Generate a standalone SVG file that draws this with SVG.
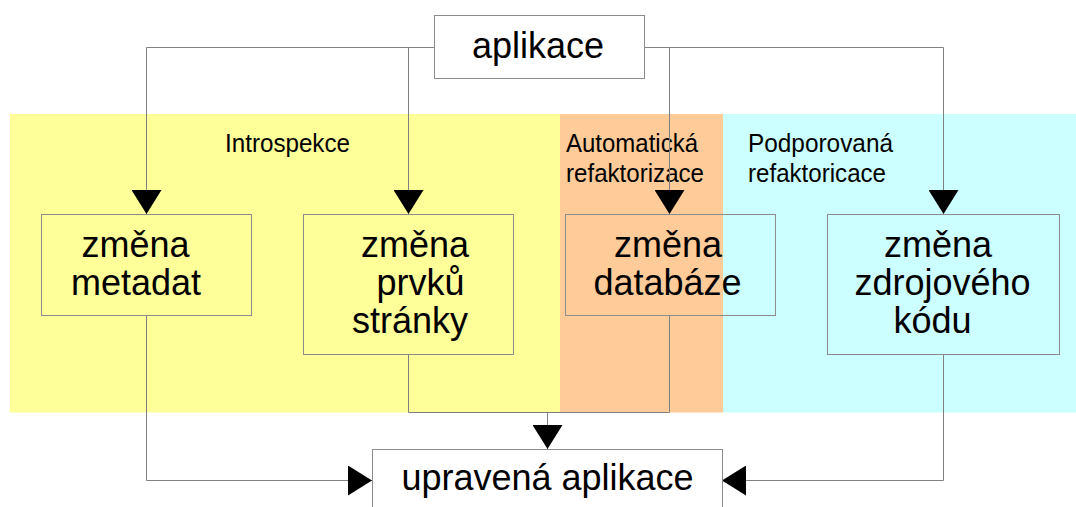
<svg xmlns="http://www.w3.org/2000/svg" width="1076" height="507" viewBox="0 0 1076 507">
<style>
.band{stroke:none}
.box{fill:none;stroke:#8c8c8c;stroke-width:1}
.wbox{fill:#ffffff;stroke:#8c8c8c;stroke-width:1}
.conn{fill:none;stroke:#808080;stroke-width:1}
.node{font-family:"Liberation Sans",Arial,sans-serif;font-size:36px;fill:#000;text-anchor:middle}
.lbl{font-family:"Liberation Sans",Arial,sans-serif;font-size:25.5px;fill:#000}
</style>
<defs>
<marker id="arr" markerUnits="userSpaceOnUse" markerWidth="24" markerHeight="30" refX="24" refY="15" orient="auto">
<path d="M0,0 L24,15 L0,30 Z" fill="#000"/>
</marker>
</defs>
<rect width="1076" height="507" fill="#ffffff"/>
<g id="bands">
<rect class="band" x="10" y="114" width="550" height="298.5" fill="#ffff99"/>
<rect class="band" x="560" y="114" width="163" height="298.5" fill="#ffcc99"/>
<rect class="band" x="723" y="114" width="353" height="298.5" fill="#ccffff"/>
<text class="lbl" x="225" y="152" textLength="125" lengthAdjust="spacingAndGlyphs">Introspekce</text>
<text class="lbl" x="566" y="152" textLength="132" lengthAdjust="spacingAndGlyphs">Automatická</text>
<text class="lbl" x="566" y="182" textLength="138" lengthAdjust="spacingAndGlyphs">refaktorizace</text>
<text class="lbl" x="748" y="152" textLength="145" lengthAdjust="spacingAndGlyphs">Podporovaná</text>
<text class="lbl" x="748" y="182" textLength="138" lengthAdjust="spacingAndGlyphs">refaktoricace</text>
</g>
<g id="connectors">
<path class="conn" d="M434.5,47.5 H146.5 V214" marker-end="url(#arr)"/>
<path class="conn" d="M408.5,47.5 V214" marker-end="url(#arr)"/>
<path class="conn" d="M644.5,47.5 H943.5 V214" marker-end="url(#arr)"/>
<path class="conn" d="M669.5,47.5 V214" marker-end="url(#arr)"/>
<path class="conn" d="M146.5,316 V480.5 H372" marker-end="url(#arr)"/>
<path class="conn" d="M943.5,355 V480.5 H722" marker-end="url(#arr)"/>
<path class="conn" d="M408.5,355 V412.5 H669.5 V316"/>
<path class="conn" d="M547.5,412.5 V449" marker-end="url(#arr)"/>
</g>
<g id="n-aplikace">
<rect class="wbox" x="434.5" y="15.5" width="210" height="63"/>
<text class="node" x="538" y="58">aplikace</text>
</g>
<g id="n-metadat">
<rect class="box" x="41.5" y="214.5" width="210" height="101"/>
<text class="node" x="135.5" y="257">změna</text>
<text class="node" x="136" y="295">metadat</text>
</g>
<g id="n-prvky">
<rect class="box" x="303.5" y="214.5" width="210" height="140"/>
<text class="node" x="415" y="257">změna</text>
<text class="node" x="420.5" y="295">prvků</text>
<text class="node" x="410" y="333">stránky</text>
</g>
<g id="n-databaze">
<rect class="box" x="565.5" y="214.5" width="210" height="101"/>
<text class="node" x="668" y="257">změna</text>
<text class="node" x="667.5" y="295">databáze</text>
</g>
<g id="n-kod">
<rect class="box" x="827.5" y="214.5" width="232" height="140"/>
<text class="node" x="938" y="257">změna</text>
<text class="node" x="942.5" y="295">zdrojového</text>
<text class="node" x="932.5" y="333">kódu</text>
</g>
<g id="n-upravena">
<rect class="wbox" x="372.5" y="449.5" width="350" height="70"/>
<text class="node" x="547.5" y="490">upravená aplikace</text>
</g>
</svg>
